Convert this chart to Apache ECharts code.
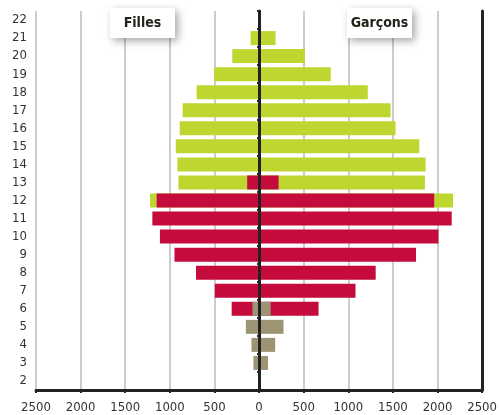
<!DOCTYPE html>
<html>
<head>
    <meta charset="utf-8">
    <title>Pyramide</title>
    <script src="https://cdn.jsdelivr.net/npm/echarts@6/dist/echarts.min.js"></script>
    <style>
        body { margin: 0; background: #fff; }
    </style>
</head>
<body>
    <div id="main" style="width: 500px;height:415px;"></div>
    <script type="text/javascript">
        // ages (axe vertical)
        var ages = ['2','3','4','5','6','7','8','9','10','11','12','13','14','15','16','17','18','19','20','21','22'];
        var xTicks = [-2500, 2500, 500];

        // filles en négatif, garçons en positif
        var vertFilles   = [null,null,null,null,null,null,null,null,null,null,-1222,-904,-915,-933,-889,-856,-700,-503,-300,-95,null];
        var vertGarcons  = [null,null,null,null,null,null,null,null,null,null,2174,1859,1867,1796,1530,1474,1219,804,514,185,20];
        var rougeFilles  = [null,null,null,null,-307,-496,-707,-948,-1111,-1196,-1148,-133,null,null,null,null,null,null,null,null,null];
        var rougeGarcons = [null,null,null,null,667,1081,1307,1759,2011,2159,1963,219,null,null,null,null,null,null,null,null,null];
        var brunFilles   = [null,-63,-85,-148,-74,null,null,null,null,null,null,null,null,null,null,null,null,null,null,null,null];
        var brunGarcons  = [20,100,181,274,130,15,null,null,null,null,null,null,null,null,null,null,null,null,null,null,null];

        var FONT = "'Liberation Sans Narrow', 'DejaVu Sans Condensed', sans-serif";
        var VERT = '#bfd631', ROUGE = '#c40b3c', BRUN = '#9c9472';

        function barre(data, color){
            return {
                type: 'bar',
                data: data,
                barWidth: 14,
                barGap: '-100%',
                itemStyle: { color: color },
                silent: true
            };
        }

        var series = [
            barre(vertFilles, VERT),
            barre(vertGarcons, VERT),
            barre(rougeFilles, ROUGE),
            barre(rougeGarcons, ROUGE),
            barre(brunFilles, BRUN),
            barre(brunGarcons, BRUN)
        ];
        // ligne du zéro
        series[5].markLine = {
            silent: true,
            symbol: 'none',
            label: { show: false },
            lineStyle: { color: '#222', width: 3, type: 'solid' },
            data: [{ xAxis: 0 }]
        };

        function boite(x, texte){
            return {
                type: 'group',
                left: x, top: 8,
                z: 100,
                children: [{
                    type: 'rect',
                    z: 100,
                    shape: { x: 0, y: 0, width: 65, height: 30 },
                    style: { fill: '#fff', shadowBlur: 8, shadowOffsetX: 3, shadowOffsetY: 3, shadowColor: 'rgba(0,0,0,0.35)' }
                }, {
                    type: 'text',
                    z: 101,
                    x: 32.5, y: 15,
                    style: { text: texte, fill: '#22221a', font: 'bold 14px ' + FONT, align: 'center', verticalAlign: 'middle' }
                }]
            };
        }

        var option = {
            animation: false,
            grid: { left: 36, right: 14, top: 11, bottom: 25 },
            xAxis: {
                type: 'value',
                min: xTicks[0],
                max: xTicks[1],
                interval: xTicks[2],
                axisLine: { show: true, lineStyle: { color: '#222', width: 3 } },
                axisTick: { show: true, length: 3, lineStyle: { color: '#222', width: 2 } },
                axisLabel: {
                    color: '#333', fontSize: 13, fontFamily: FONT, margin: 11,
                    formatter: function (v) { return Math.abs(v); }
                },
                splitLine: { show: true, lineStyle: { color: '#cccccc', width: 2 } }
            },
            yAxis: [{
                type: 'category',
                data: ages,
                position: 'left',
                axisLine: { show: true, lineStyle: { color: '#222', width: 3 } },
                axisTick: { show: true, length: 2, interval: 0, lineStyle: { color: '#222', width: 2 } },
                axisLabel: { color: '#333', fontSize: 13, fontFamily: FONT, margin: 9, interval: 0 },
                splitLine: { show: false }
            }, {
                type: 'category',
                data: ages,
                position: 'right',
                axisLine: { show: true, lineStyle: { color: '#222', width: 3 } },
                axisTick: { show: false },
                axisLabel: { show: false },
                splitLine: { show: false }
            }],
            graphic: [boite(110, 'Filles'), boite(347, 'Garçons')],
            series: series
        };

        var myChart = echarts.init(document.getElementById('main'));
        myChart.setOption(option);
    </script>
</body>
</html>
